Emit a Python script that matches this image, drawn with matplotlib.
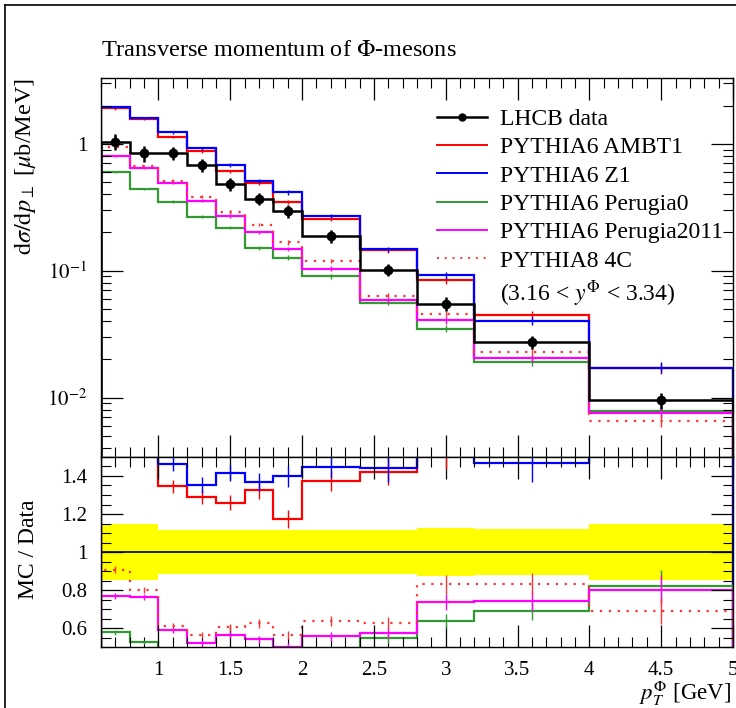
import numpy as np
import matplotlib
matplotlib.use("Agg")
import matplotlib.pyplot as plt
from matplotlib.lines import Line2D
from matplotlib.ticker import FixedLocator, MultipleLocator, FuncFormatter, LogLocator, NullFormatter

plt.rcParams['font.family'] = ['Liberation Serif', 'DejaVu Serif']
plt.rcParams['mathtext.fontset'] = 'stix'

# bin edges in pT (GeV)
edges = np.array([0.6, 0.8, 1.0, 1.2, 1.4, 1.6, 1.8, 2.0, 2.4, 2.8, 3.2, 4.0, 5.0])
centers = 0.5 * (edges[1:] + edges[:-1])

# LHCb data (mub/MeV) and relative uncertainty
data = [1.04, 0.84, 0.84, 0.68, 0.48, 0.37, 0.296, 0.187, 0.102, 0.055, 0.0275, 0.0095]
data_relerr = [0.146, 0.146, 0.115, 0.115, 0.115, 0.115, 0.115, 0.115, 0.115, 0.128, 0.12, 0.148]

# MC predictions
ambt1 = [1.90, 1.58, 1.13, 0.877, 0.605, 0.49, 0.348, 0.257, 0.145, 0.084, 0.045, 0.0170]
z1 = [1.95, 1.60, 1.23, 0.92, 0.68, 0.507, 0.414, 0.271, 0.147, 0.092, 0.0404, 0.0172]
perugia0 = [0.60, 0.44, 0.35, 0.267, 0.218, 0.151, 0.127, 0.090, 0.056, 0.035, 0.019, 0.0078]
perugia2011 = [0.797, 0.64, 0.493, 0.356, 0.27, 0.20, 0.148, 0.104, 0.0585, 0.0405, 0.0204, 0.0076]
py8_4c = [0.943, 0.672, 0.512, 0.383, 0.29, 0.231, 0.167, 0.119, 0.0637, 0.0457, 0.0228, 0.00656]
mc_relerr = [0.02, 0.02, 0.025, 0.03, 0.03, 0.035, 0.04, 0.04, 0.05, 0.06, 0.07, 0.1]

mc_sets = [
    ("PYTHIA6 AMBT1", ambt1, "#ff0000", "-"),
    ("PYTHIA6 Z1", z1, "#0000ff", "-"),
    ("PYTHIA6 Perugia0", perugia0, "#339933", "-"),
    ("PYTHIA6 Perugia2011", perugia2011, "#ff00ff", "-"),
    ("PYTHIA8 4C", py8_4c, "#ff3333", (0, (1, 3))),
]

W, H = 736, 708
fig = plt.figure(figsize=(W / 100, H / 100), dpi=100)
ax = fig.add_axes([101 / W, 1 - 457 / H, 632 / W, 379 / H])
rax = fig.add_axes([101 / W, 1 - 647 / H, 632 / W, 190 / H], sharex=ax)

data = np.array(data)
derr = data * np.array(data_relerr)
mcerr = np.array(mc_relerr)

# main panel
for label, vals, col, ls in mc_sets:
    vals = np.array(vals)
    ax.stairs(vals, edges, color=col, lw=1.6, ls=ls)
    ax.errorbar(centers, vals, yerr=vals * mcerr, fmt='none', ecolor=col, elinewidth=1)
ax.stairs(data, edges, color='black', lw=1.8)
ax.errorbar(centers, data, yerr=derr, fmt='o', color='black', ms=6, elinewidth=1.8, capsize=0)

ax.set_yscale('log')
ax.set_xlim(0.6, 5.0)
ax.set_ylim(0.0034, 3.3)
ax.yaxis.set_major_locator(FixedLocator([0.01, 0.1, 1]))
ax.yaxis.set_major_formatter(FuncFormatter(lambda v, p: "1" if abs(v - 1) < 1e-9 else r"$10^{%d}$" % round(np.log10(v))))
ax.yaxis.set_minor_locator(LogLocator(base=10, subs=np.arange(2, 10)))
ax.yaxis.set_minor_formatter(NullFormatter())
plt.setp(ax.get_xticklabels(), visible=False)

# ratio panel
rax.stairs(1 + np.array(data_relerr), edges, baseline=1 - np.array(data_relerr), fill=True, color='#ffff00', lw=0)
rax.axhline(1.0, color='black', lw=1.2)
for label, vals, col, ls in mc_sets:
    r = np.array(vals) / data
    rax.stairs(r, edges, color=col, lw=1.6, ls=ls)
    rax.errorbar(centers, r, yerr=r * mcerr, fmt='none', ecolor=col, elinewidth=1)
rax.set_ylim(0.5, 1.5)
rax.yaxis.set_major_locator(FixedLocator([0.6, 0.8, 1.0, 1.2, 1.4]))
rax.yaxis.set_major_formatter(FuncFormatter(lambda v, p: "%g" % v))
rax.yaxis.set_minor_locator(MultipleLocator(0.05))
rax.xaxis.set_major_locator(MultipleLocator(0.5))
rax.xaxis.set_major_formatter(FuncFormatter(lambda v, p: "%g" % v))
rax.xaxis.set_minor_locator(MultipleLocator(0.1))

for a in (ax, rax):
    a.tick_params(which='both', direction='in', top=True, right=True, labelsize=15)
    a.tick_params(which='major', length=16, width=0.9, pad=10)
    a.tick_params(which='minor', length=7, width=0.8)
    for s in a.spines.values():
        s.set_linewidth(1.0)

# legend
handles = [Line2D([], [], color='black', lw=1.8, marker='o', ms=5)]
labels = ["LHCB data"]
for label, vals, col, ls in mc_sets:
    handles.append(Line2D([], [], color=col, lw=1.4, ls=ls))
    labels.append(label)
handles.append(Line2D([], [], color='none'))
labels.append(r"(3.16 < $y^{\Phi}$ < 3.34)")
ax.legend(handles, labels, loc='upper left', bbox_to_anchor=(0.532, 0.92), frameon=False,
          fontsize=17, handlelength=2.1, handletextpad=0.55, labelspacing=0.29,
          borderpad=0, borderaxespad=0)

# texts
fig.text(101 / W, 1 - 50 / H, r"Transverse momentum of $\Phi$-mesons", fontsize=17.5, ha='left', va='center')
fig.text(25 / W, 1 - 78 / H, r"$\mathrm{d}\sigma/\mathrm{d}p_\perp$ [$\mu$b/MeV]", fontsize=17.5,
         rotation=90, ha='center', va='top')
fig.text(28 / W, 1 - 549 / H, "MC / Data", fontsize=17, rotation=90, ha='center', va='center')
fig.text(731 / W, 1 - 693 / H, r"$p_T^{\Phi}$ [GeV]", fontsize=16.5, ha='right', va='center')

# outer frame lines
fig.add_artist(Line2D([5 / W, 5 / W], [0, 1 - 5 / H], transform=fig.transFigure, color='black', lw=1.2))
fig.add_artist(Line2D([5 / W, 1], [1 - 5 / H, 1 - 5 / H], transform=fig.transFigure, color='black', lw=1.2))

fig.savefig("out.png", dpi=100)
